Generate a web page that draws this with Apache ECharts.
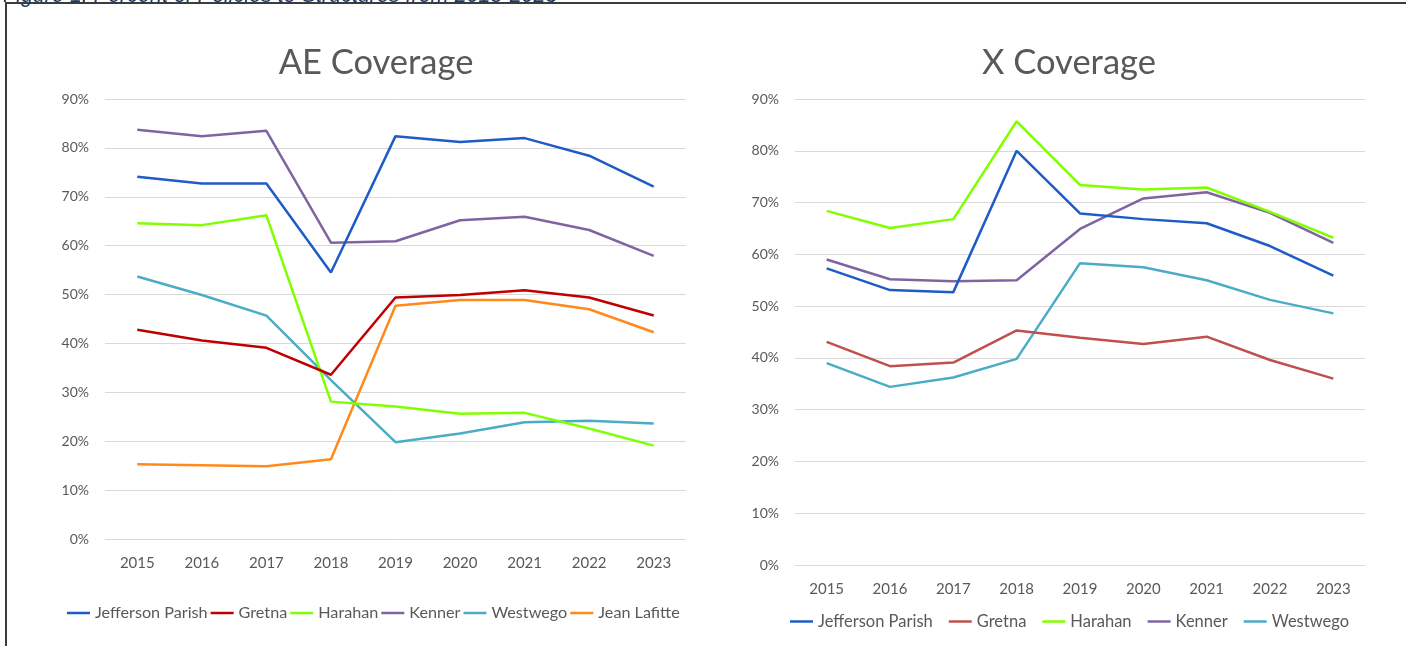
<!DOCTYPE html>
<html>
<head>
<meta charset="utf-8">
<script src="https://cdn.jsdelivr.net/npm/echarts@6/dist/echarts.min.js"></script>
<style>
html,body{margin:0;padding:0;background:#fff;}
#chart{width:1406px;height:646px;}
</style>
</head>
<body>
<div id="chart"></div>
<script>
// ---- Data ----
const years = ['2015','2016','2017','2018','2019','2020','2021','2022','2023'];
const yTicks = [0,10,20,30,40,50,60,70,80,90];

// AE Coverage (%)
const aeJefferson = [74.1, 72.7, 72.7, 54.5, 82.4, 81.2, 82.0, 78.4, 72.1];
const aeGretna    = [42.8, 40.6, 39.1, 33.6, 49.4, 49.9, 50.9, 49.4, 45.7];
const aeHarahan   = [64.6, 64.2, 66.2, 28.1, 27.1, 25.6, 25.8, 22.6, 19.1];
const aeKenner    = [83.7, 82.4, 83.5, 60.6, 60.9, 65.2, 65.9, 63.2, 57.9];
const aeWestwego  = [53.7, 49.9, 45.7, 32.5, 19.8, 21.6, 23.9, 24.2, 23.6];
const aeLafitte   = [15.3, 15.1, 14.9, 16.3, 47.7, 48.9, 48.9, 47.0, 42.3];

// X Coverage (%)
const xJefferson = [57.3, 53.1, 52.7, 80.0, 67.9, 66.8, 66.0, 61.6, 55.9];
const xGretna    = [43.1, 38.4, 39.1, 45.3, 43.9, 42.7, 44.1, 39.6, 36.0];
const xHarahan   = [68.4, 65.1, 66.8, 85.7, 73.4, 72.5, 72.9, 68.2, 63.2];
const xKenner    = [59.0, 55.2, 54.8, 55.0, 64.9, 70.8, 72.0, 68.0, 62.2];
const xWestwego  = [39.0, 34.4, 36.2, 39.8, 58.3, 57.5, 55.0, 51.2, 48.6];

const aeNames = ['Jefferson Parish','Gretna','Harahan','Kenner','Westwego','Jean Lafitte'];
const xNames  = ['Jefferson Parish','Gretna','Harahan','Kenner','Westwego'];

// ---- Styles ----
const FONT = 'Lato';
const TXT = '#595959';
const aeColors = ['#1F5BC6','#C00000','#80FF00','#8064A2','#4BACC6','#FF8A1A'];
const xColors  = ['#1F5BC6','#C0504D','#80FF00','#8064A2','#4BACC6'];
const aeData = [aeJefferson, aeGretna, aeHarahan, aeKenner, aeWestwego, aeLafitte];
const xData  = [xJefferson, xGretna, xHarahan, xKenner, xWestwego];

function xAxis(gi){
  return {
    type:'category', gridIndex:gi, data:years, boundaryGap:true,
    axisLine:{show:false}, axisTick:{show:false},
    axisLabel:{color:TXT, fontFamily:FONT, fontSize:15, margin:17}
  };
}
function yAxis(gi){
  return {
    type:'value', gridIndex:gi, min:yTicks[0], max:yTicks[yTicks.length-1], interval:10,
    axisLine:{show:false}, axisTick:{show:false},
    axisLabel:{color:TXT, fontFamily:FONT, fontSize:14, margin:16, formatter:'{value}%'},
    splitLine:{lineStyle:{color:'#D9D9D9', width:1}}
  };
}
const series = [];
aeNames.forEach((n,i)=>series.push({
  name:n, type:'line', xAxisIndex:0, yAxisIndex:0, data:aeData[i],
  symbol:'none', lineStyle:{width:2.5, color:aeColors[i]}, itemStyle:{color:aeColors[i]}, z:10-i
}));
xNames.forEach((n,i)=>series.push({
  name:n, type:'line', xAxisIndex:1, yAxisIndex:1, data:xData[i],
  symbol:'none', lineStyle:{width:2.5, color:xColors[i]}, itemStyle:{color:xColors[i]}, z:10-i
}));

function legendData(names, colors){
  return names.map((n,i)=>({name:n, icon:'rect', itemStyle:{color:colors[i], borderWidth:0}}));
}

const chart = echarts.init(document.getElementById('chart'), null, {renderer:'canvas'});
chart.setOption({
  animation:false,
  backgroundColor:'#ffffff',
  title:[
    {text:'AE Coverage', left:371, top:40, textAlign:'center',
     textStyle:{color:TXT, fontFamily:FONT, fontSize:34.5, fontWeight:'normal'}},
    {text:'X Coverage', left:1064, top:40, textAlign:'center',
     textStyle:{color:TXT, fontFamily:FONT, fontSize:34.5, fontWeight:'normal'}}
  ],
  grid:[
    {left:105, top:99, width:581, height:440},
    {left:795, top:99, width:570, height:466}
  ],
  xAxis:[xAxis(0), xAxis(1)],
  yAxis:[yAxis(0), yAxis(1)],
  legend:[
    {data:legendData(aeNames, aeColors), left:67, top:605, padding:0, itemWidth:23, itemHeight:2.5, itemGap:3,
     selectedMode:false, textStyle:{color:TXT, fontFamily:FONT, fontSize:16.2}},
    {data:legendData(xNames, xColors), left:790, top:613, padding:0, itemWidth:23, itemHeight:2.5, itemGap:16,
     selectedMode:false, textStyle:{color:TXT, fontFamily:FONT, fontSize:16.5}}
  ],
  graphic:[
    {type:'rect', shape:{x:6, y:3, width:1500, height:1000}, silent:true,
     style:{fill:'none', stroke:'#3C3C3C', lineWidth:2}},
    {type:'text', x:3, y:-15, silent:true,
     style:{text:'Figure 1: Percent of Policies to Structures from 2015-2023', fill:'#1F3864',
            font:'italic 21.5px "Liberation Sans"', verticalAlign:'top', align:'left'}}
  ],
  series:series
});
</script>
</body>
</html>
